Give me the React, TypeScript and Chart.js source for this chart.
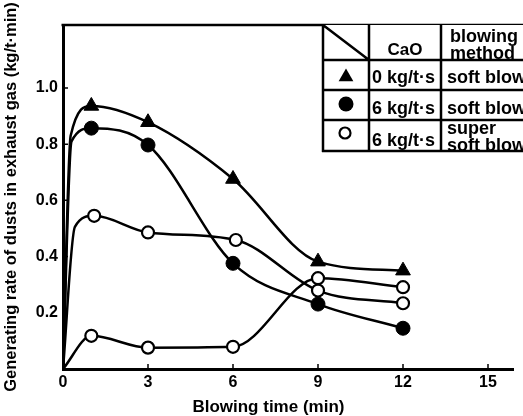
import React, { useEffect, useRef } from "react";
import { Chart, registerables } from "chart.js";

Chart.register(...registerables);

const X_TICKS = [0, 3, 6, 9, 12, 15];
const Y_TICKS = [0.2, 0.4, 0.6, 0.8, 1.0];
const X_MAX = 15.9;
const Y_MAX = 1.224;

const X_TITLE = "Blowing time (min)";
const Y_TITLE = "Generating rate of dusts in exhaust gas (kg/t\u00b7min)";

// 0 kg/t·s, soft blow (filled triangles)
const triTimes = [0, 0.27, 1, 3, 6, 9, 12];
const triValues = [0, 0.83, 0.936, 0.878, 0.676, 0.382, 0.35];
// 6 kg/t·s, soft blow (filled circles)
const dotTimes = [0, 0.3, 1, 3, 6, 9, 12];
const dotValues = [0, 0.81, 0.857, 0.797, 0.376, 0.231, 0.145];
// 6 kg/t·s, super soft blow (open circles) - upper curve
const ringTimesA = [0, 0.42, 1.1, 3, 6.1, 9, 12];
const ringValuesA = [0, 0.506, 0.545, 0.486, 0.459, 0.279, 0.234];
// open circles - lower curve
const ringTimesB = [0, 1, 3, 6, 9, 12];
const ringValuesB = [0, 0.118, 0.076, 0.079, 0.323, 0.291];

const legendHeader = ["CaO", "blowing", "method"];
const legendCaO = ["0 kg/t\u00b7s", "6 kg/t\u00b7s", "6 kg/t\u00b7s"];
const legendMethod = [["soft blow"], ["soft blow"], ["super", "soft blow"]];

const FONT = '"Liberation Sans", Arial, sans-serif';

function pts(t: number[], v: number[]) {
  return t.map((x, i) => ({ x, y: v[i] }));
}

function radii(n: number, lead: number, r: number) {
  return Array.from({ length: n }, (_, i) => (i < lead ? 0 : r));
}

function drawTri(ctx: CanvasRenderingContext2D, x: number, y: number, r: number) {
  ctx.beginPath();
  for (let k = 0; k < 3; k++) {
    const a = (k * 2 * Math.PI) / 3;
    const px = x + Math.sin(a) * r;
    const py = y - Math.cos(a) * r;
    if (k === 0) ctx.moveTo(px, py);
    else ctx.lineTo(px, py);
  }
  ctx.closePath();
  ctx.fill();
}

const framePlugin = {
  id: "framePlugin",
  afterDraw(chart: any) {
    const { ctx, chartArea: a, scales } = chart;
    const xs = scales.x;
    const ys = scales.y;
    ctx.save();
    ctx.strokeStyle = "#000";
    ctx.fillStyle = "#000";
    // top frame line
    ctx.lineWidth = 2.5;
    ctx.beginPath();
    ctx.moveTo(a.left - 1.5, a.top);
    ctx.lineTo(chart.width, a.top);
    ctx.stroke();
    // inward tick marks
    ctx.lineWidth = 1.5;
    ctx.beginPath();
    X_TICKS.forEach((v) => {
      if (v === 0) return;
      const px = xs.getPixelForValue(v);
      ctx.moveTo(px, a.bottom);
      ctx.lineTo(px, a.bottom - 5);
    });
    Y_TICKS.forEach((v) => {
      const py = ys.getPixelForValue(v);
      ctx.moveTo(a.left, py);
      ctx.lineTo(a.left + 5, py);
    });
    ctx.stroke();

    // x title
    ctx.font = `bold 17px ${FONT}`;
    ctx.textAlign = "center";
    ctx.textBaseline = "alphabetic";
    ctx.fillText(X_TITLE, xs.getPixelForValue(7.25), 412);

    // legend table
    const c0 = 323, c1 = 369, c2 = 441, right = chart.width;
    const rows = [a.top, 60, 90, 120, 151];
    ctx.fillStyle = "#fff";
    ctx.fillRect(c0, rows[0], right - c0, rows[4] - rows[0]);
    ctx.fillStyle = "#000";

    ctx.textAlign = "center";
    ctx.font = `bold 17px ${FONT}`;
    ctx.fillText(legendHeader[0], (c1 + c2) / 2, 55);
    ctx.textAlign = "left";
    ctx.font = `bold 18px ${FONT}`;
    ctx.fillText(legendHeader[1], 450, 42);
    ctx.fillText(legendHeader[2], 450, 59);

    const baselines = [83, 114, 146];
    legendCaO.forEach((t, i) => ctx.fillText(t, 372, baselines[i]));
    ctx.fillText(legendMethod[0][0], 447, 83);
    ctx.fillText(legendMethod[1][0], 447, 114);
    ctx.fillText(legendMethod[2][0], 447, 134);
    ctx.fillText(legendMethod[2][1], 447, 151);

    // markers
    drawTri(ctx, 346, 77, 8.5);
    ctx.beginPath();
    ctx.arc(346, 104, 7.5, 0, Math.PI * 2);
    ctx.fill();
    ctx.lineWidth = 2.2;
    ctx.beginPath();
    ctx.arc(345, 133, 5.5, 0, Math.PI * 2);
    ctx.stroke();

    // table lines
    ctx.lineWidth = 2.5;
    ctx.beginPath();
    rows.forEach((r, i) => {
      if (i === 0) return;
      ctx.moveTo(c0 - 1, r);
      ctx.lineTo(right, r);
    });
    [c0, c1, c2].forEach((c) => {
      ctx.moveTo(c, rows[0]);
      ctx.lineTo(c, rows[4] + 1);
    });
    ctx.moveTo(c0, rows[0]);
    ctx.lineTo(c1, rows[1]);
    ctx.stroke();
    ctx.restore();
  },
};

export default function App() {
  const ref = useRef<HTMLCanvasElement | null>(null);

  useEffect(() => {
    if (!ref.current) return;
    const base = {
      borderColor: "#000",
      borderWidth: 2.5,
      cubicInterpolationMode: "monotone" as const,
      pointBorderColor: "#000",
      showLine: true,
    };
    const chart = new Chart(ref.current, {
      type: "scatter",
      data: {
        datasets: [
          {
            ...base,
            label: "0 kg/t·s soft blow",
            data: pts(triTimes, triValues),
            pointStyle: "triangle",
            pointRadius: radii(triTimes.length, 2, 8.5),
            pointBackgroundColor: "#000",
            pointBorderWidth: 1,
          },
          {
            ...base,
            label: "6 kg/t·s soft blow",
            data: pts(dotTimes, dotValues),
            pointStyle: "circle",
            pointRadius: radii(dotTimes.length, 2, 7),
            pointBackgroundColor: "#000",
            pointBorderWidth: 1,
          },
          {
            ...base,
            label: "6 kg/t·s super soft blow",
            data: pts(ringTimesA, ringValuesA),
            pointStyle: "circle",
            pointRadius: radii(ringTimesA.length, 2, 6),
            pointBackgroundColor: "#fff",
            pointBorderWidth: 2.2,
          },
          {
            ...base,
            label: "6 kg/t·s super soft blow (b)",
            data: pts(ringTimesB, ringValuesB),
            pointStyle: "circle",
            pointRadius: radii(ringTimesB.length, 1, 6),
            pointBackgroundColor: "#fff",
            pointBorderWidth: 2.2,
          },
        ],
      },
      options: {
        animation: false,
        responsive: false,
        devicePixelRatio: 1,
        layout: { padding: { top: 25, right: 0, bottom: 0, left: 0 } },
        plugins: {
          legend: { display: false },
          tooltip: { enabled: false },
        },
        scales: {
          x: {
            type: "linear",
            min: 0,
            max: X_MAX,
            afterBuildTicks: (s: any) => {
              s.ticks = X_TICKS.map((value) => ({ value }));
            },
            afterFit: (s: any) => {
              s.height = 47;
            },
            grid: { drawOnChartArea: false, drawTicks: false },
            border: { display: true, color: "#000", width: 3 },
            ticks: {
              padding: 4,
              color: "#000",
              maxRotation: 0,
              font: { family: FONT, weight: "bold", size: 16 },
            },
          },
          y: {
            type: "linear",
            min: 0,
            max: Y_MAX,
            afterBuildTicks: (s: any) => {
              s.ticks = Y_TICKS.map((value) => ({ value }));
            },
            afterFit: (s: any) => {
              s.width = 63;
            },
            grid: { drawOnChartArea: false, drawTicks: false },
            border: { display: true, color: "#000", width: 3 },
            ticks: {
              padding: 5,
              color: "#000",
              font: { family: FONT, weight: "bold", size: 16 },
              callback: (v: any) => Number(v).toFixed(1),
            },
            title: {
              display: true,
              text: Y_TITLE,
              color: "#000",
              padding: { top: 2, bottom: 0 },
              font: { family: FONT, weight: "bold", size: 16.5 },
            },
          },
        },
      },
      plugins: [framePlugin],
    });
    return () => chart.destroy();
  }, []);

  return (
    <div
      style={{
        position: "absolute",
        left: 0,
        top: 0,
        width: 523,
        height: 416,
        overflow: "hidden",
        background: "#fff",
      }}
    >
      <canvas ref={ref} width={523} height={416} style={{ display: "block" }} />
    </div>
  );
}
